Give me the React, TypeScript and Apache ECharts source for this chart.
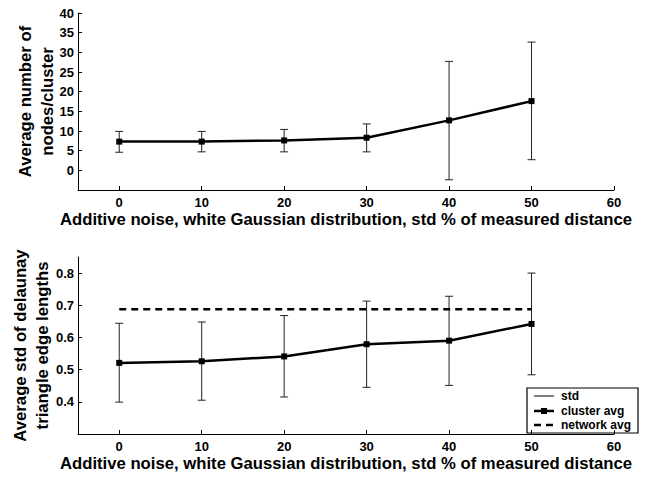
import React, { useEffect, useRef } from "react";
import * as echarts from "echarts";

const noise = [0, 10, 20, 30, 40, 50];
const nodesMean = [7.3, 7.3, 7.6, 8.3, 12.7, 17.6];
const nodesLow = [4.6, 4.7, 4.7, 4.7, -2.4, 2.7];
const nodesHigh = [9.9, 9.9, 10.4, 11.8, 27.7, 32.6];

const stdMean = [0.521, 0.526, 0.541, 0.579, 0.59, 0.642];
const stdLow = [0.399, 0.405, 0.415, 0.445, 0.451, 0.484];
const stdHigh = [0.644, 0.648, 0.668, 0.713, 0.728, 0.8];
const networkAvg = 0.688;

const xTicks = [0, 10, 20, 30, 40, 50, 60];
const yTicksTop = [0, 5, 10, 15, 20, 25, 30, 35, 40];
const yTicksBottom = [0.4, 0.5, 0.6, 0.7, 0.8];

const xTitle = "Additive noise, white Gaussian distribution, std % of measured distance";
const yTitleTop = "Average number of\nnodes/cluster";
const yTitleBottom = "Average std of delaunay\ntriangle edge lengths";
const legendItems = ["std", "cluster avg", "network avg"];

const FONT = "'Liberation Sans', Arial, Helvetica, sans-serif";

export default function App() {
  const ref = useRef<HTMLDivElement>(null);
  useEffect(() => {
    document.body.style.margin = "0";
    const chart = echarts.init(ref.current!, null, { renderer: "svg" });
    const titleStyle = {
      color: "#000",
      fontWeight: "bold",
      fontSize: 16.7,
      fontFamily: FONT,
      lineHeight: 22,
    };
    const mkX = (i: number) => ({
      type: "value",
      gridIndex: i,
      min: -5,
      max: 60,
      axisLine: { show: true, onZero: false, lineStyle: { color: "#000", width: 1 } },
      axisTick: { show: true, inside: true, length: 4, customValues: xTicks, lineStyle: { color: "#000" } },
      axisLabel: { customValues: xTicks, color: "#000", fontWeight: "bold", fontSize: 13, fontFamily: FONT, margin: 6 },
      splitLine: { show: false },
      name: xTitle,
      nameLocation: "middle",
      nameGap: 20,
      nameMoveOverlap: false,
      nameTextStyle: { ...titleStyle, lineHeight: 18 },
    });
    const errSeries = (i: number, lo: number[], hi: number[]) => ({
      type: "custom",
      xAxisIndex: i,
      yAxisIndex: i,
      z: 2,
      data: noise.map((x, k) => [x, lo[k], hi[k]]),
      encode: { x: 0, y: [1, 2] },
      renderItem: (params: any, api: any) => {
        const x = api.value(0);
        const p1 = api.coord([x, api.value(1)]);
        const p2 = api.coord([x, api.value(2)]);
        const w = 4;
        const st = { stroke: "#222", lineWidth: 1 };
        return {
          type: "group",
          children: [
            { type: "line", shape: { x1: p1[0], y1: p1[1], x2: p2[0], y2: p2[1] }, style: st },
            { type: "line", shape: { x1: p1[0] - w, y1: p1[1], x2: p1[0] + w, y2: p1[1] }, style: st },
            { type: "line", shape: { x1: p2[0] - w, y1: p2[1], x2: p2[0] + w, y2: p2[1] }, style: st },
          ],
        };
      },
    });
    const meanSeries = (i: number, vals: number[]) => ({
      type: "line",
      xAxisIndex: i,
      yAxisIndex: i,
      z: 3,
      data: noise.map((x, k) => [x, vals[k]]),
      symbol: "rect",
      symbolSize: 6,
      itemStyle: { color: "#000" },
      lineStyle: { color: "#000", width: 2.5 },
    });
    const lx = 527, ly = 388;
    const legendText = (t: string, y: number) => ({
      type: "text",
      x: lx + 34,
      y,
      style: { text: t, fill: "#000", font: `bold 12px ${FONT}`, verticalAlign: "middle" },
    });
    const option: any = {
      animation: false,
      grid: [
        { left: 78, top: 13, width: 536, height: 177, outerBoundsMode: "none" },
        { left: 78, top: 257, width: 536, height: 177, outerBoundsMode: "none" },
      ],
      xAxis: [mkX(0), mkX(1)],
      yAxis: [
        {
          type: "value",
          gridIndex: 0,
          min: -5,
          max: 40,
          axisLine: { show: true, onZero: false, lineStyle: { color: "#000" } },
          axisTick: { show: true, inside: true, length: 4, customValues: yTicksTop, lineStyle: { color: "#000" } },
          axisLabel: { customValues: yTicksTop, color: "#000", fontWeight: "bold", fontSize: 13, fontFamily: FONT, margin: 4 },
          splitLine: { show: false },
          name: yTitleTop,
          nameLocation: "middle",
          nameRotate: 90,
          nameGap: 20,
          nameMoveOverlap: false,
          nameTextStyle: titleStyle,
        },
        {
          type: "value",
          gridIndex: 1,
          min: 0.3,
          max: 0.85,
          axisLine: { show: true, onZero: false, lineStyle: { color: "#000" } },
          axisTick: { show: true, inside: true, length: 4, customValues: yTicksBottom, lineStyle: { color: "#000" } },
          axisLabel: { customValues: yTicksBottom, color: "#000", fontWeight: "bold", fontSize: 13, fontFamily: FONT, margin: 4 },
          splitLine: { show: false },
          name: yTitleBottom,
          nameLocation: "middle",
          nameRotate: 90,
          nameGap: 25,
          nameMoveOverlap: false,
          nameTextStyle: titleStyle,
        },
      ],
      series: [
        errSeries(0, nodesLow, nodesHigh),
        meanSeries(0, nodesMean),
        errSeries(1, stdLow, stdHigh),
        meanSeries(1, stdMean),
        {
          type: "line",
          xAxisIndex: 1,
          yAxisIndex: 1,
          z: 3,
          data: noise.map((x) => [x, networkAvg]),
          symbol: "none",
          lineStyle: { color: "#000", width: 2.5, type: [7, 5] },
        },
      ],
      graphic: [
        {
          type: "group",
          z: 100,
          children: [
            { type: "rect", shape: { x: lx, y: ly, width: 111, height: 45 }, style: { fill: "#fff", stroke: "#000", lineWidth: 1.2 } },
            { type: "line", shape: { x1: lx + 7, y1: ly + 8, x2: lx + 27, y2: ly + 8 }, style: { stroke: "#000", lineWidth: 1 } },
            { type: "line", shape: { x1: lx + 7, y1: ly + 23, x2: lx + 27, y2: ly + 23 }, style: { stroke: "#000", lineWidth: 2.5 } },
            { type: "rect", shape: { x: lx + 14, y: ly + 20, width: 6, height: 6 }, style: { fill: "#000" } },
            { type: "line", shape: { x1: lx + 7, y1: ly + 37, x2: lx + 27, y2: ly + 37 }, style: { stroke: "#000", lineWidth: 2.5, lineDash: [7, 5] } },
            legendText(legendItems[0], ly + 8),
            legendText(legendItems[1], ly + 22.5),
            legendText(legendItems[2], ly + 36.5),
          ],
        },
      ],
    };
    chart.setOption(option);
    return () => chart.dispose();
  }, []);
  return <div ref={ref} style={{ width: 660, height: 479 }} />;
}
